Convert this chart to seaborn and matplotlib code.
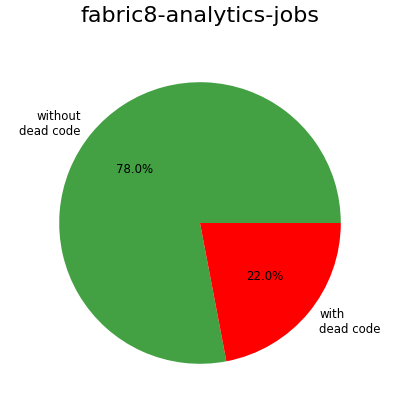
import matplotlib
matplotlib.use("Agg")
import matplotlib.pyplot as plt
import seaborn as sns

labels = ["without\ndead code", "with\ndead code"]
values = [78.0, 22.0]
colors = ["#43a143", "#ff0000"]

sns.set_style("white")
fig = plt.figure(figsize=(4, 4), dpi=100)
ax = fig.add_axes([0.06, 0.0025, 0.88, 0.88])
ax.pie(values, labels=labels, colors=colors, autopct="%1.1f%%",
       wedgeprops={"linewidth": 0},
       textprops={"fontsize": 8.5, "color": "black"})
ax.set_xlim(-1.25, 1.25)
ax.set_ylim(-1.25, 1.25)
ax.set_aspect("equal")
fig.suptitle("fabric8-analytics-jobs", fontsize=16, y=0.985, color="black")
fig.savefig("out.png")
